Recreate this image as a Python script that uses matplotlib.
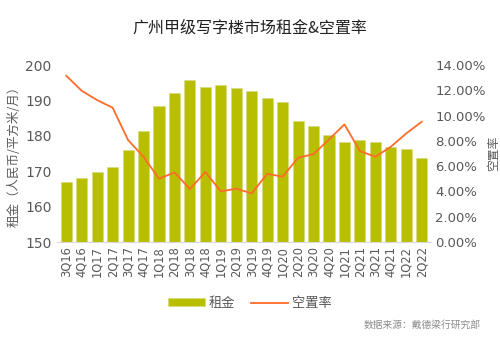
import matplotlib
matplotlib.use("Agg")
import matplotlib.pyplot as plt
from matplotlib.ticker import FuncFormatter

plt.rcParams['font.family'] = ['Noto Sans CJK SC', 'DejaVu Sans']

categories = ["3Q16", "4Q16", "1Q17", "2Q17", "3Q17", "4Q17", "1Q18", "2Q18",
              "3Q18", "4Q18", "1Q19", "2Q19", "3Q19", "4Q19", "1Q20", "2Q20",
              "3Q20", "4Q20", "1Q21", "2Q21", "3Q21", "4Q21", "1Q22", "2Q22"]
rent = [166.9, 168.2, 169.9, 171.1, 176.0, 181.4, 188.5, 192.0,
        195.7, 193.9, 194.4, 193.5, 192.7, 190.6, 189.5, 184.2,
        182.8, 180.2, 178.2, 178.7, 178.3, 176.9, 176.2, 173.7]
vacancy = [13.16, 11.97, 11.23, 10.63, 8.07, 6.75, 5.01, 5.51,
           4.19, 5.54, 4.01, 4.22, 3.85, 5.40, 5.17, 6.67,
           6.96, 8.12, 9.31, 7.20, 6.75, 7.54, 8.60, 9.52]

bar_color = "#b7bf00"
line_color = "#ff6b2b"
tick_color = "#595959"
num_font = ['DejaVu Sans']

fig = plt.figure(figsize=(5.0, 3.58), dpi=100)
ax = fig.add_axes([0.114, 0.324, 0.748, 0.494])
x = list(range(len(categories)))
bars = ax.bar(x, rent, width=0.72, color=bar_color, label="租金", zorder=2,
              edgecolor="#d6db80", linewidth=0.4)
ax.set_ylim(150, 200)
ax.set_yticks([150, 160, 170, 180, 190, 200])
ax.set_xlim(-0.6, len(categories) - 0.4)
ax.set_xticks(x)
ax.set_xticklabels(categories, rotation=90, fontsize=8.3, color=tick_color,
                   family=num_font)
for lab in ax.get_yticklabels():
    lab.set_family(num_font)
ax.tick_params(axis='y', labelsize=10, colors=tick_color, length=0, pad=4)
ax.tick_params(axis='x', length=0, pad=3)
for s in ["top", "right", "left"]:
    ax.spines[s].set_visible(False)
ax.spines["bottom"].set_color("#d9d9d9")
ax.set_ylabel("租金（人民币/平方米/月）", fontsize=9, color=tick_color, labelpad=3)

ax2 = ax.twinx()
line, = ax2.plot(x, vacancy, color=line_color, linewidth=1.3, label="空置率", zorder=3)
ax2.set_ylim(0, 14)
ax2.set_yticks([0, 2, 4, 6, 8, 10, 12, 14])
ax2.yaxis.set_major_formatter(FuncFormatter(lambda v, p: f"{v:.2f}%"))
ax2.tick_params(axis='y', labelsize=9.5, colors=tick_color, length=0, pad=3)
for lab in ax2.get_yticklabels():
    lab.set_family(num_font)
for s in ["top", "right", "left", "bottom"]:
    ax2.spines[s].set_visible(False)
ax2.set_ylabel("空置率", fontsize=8.5, color=tick_color, rotation=90, labelpad=1)

fig.text(0.5, 0.921, "广州甲级写字楼市场租金&空置率", ha="center", va="center",
         fontsize=11.5, color="#222222")
fig.legend([bars, line], ["租金", "空置率"], loc="center", bbox_to_anchor=(0.5, 0.153),
           ncol=2, frameon=False, fontsize=9.5, labelcolor=tick_color,
           handlelength=2.8, handleheight=0.5, columnspacing=1.2, handletextpad=0.3)
fig.text(0.962, 0.092, "数据来源：戴德梁行研究部", ha="right", va="center",
         fontsize=7, color="#8c8c8c")

fig.savefig("out.png", dpi=100)
